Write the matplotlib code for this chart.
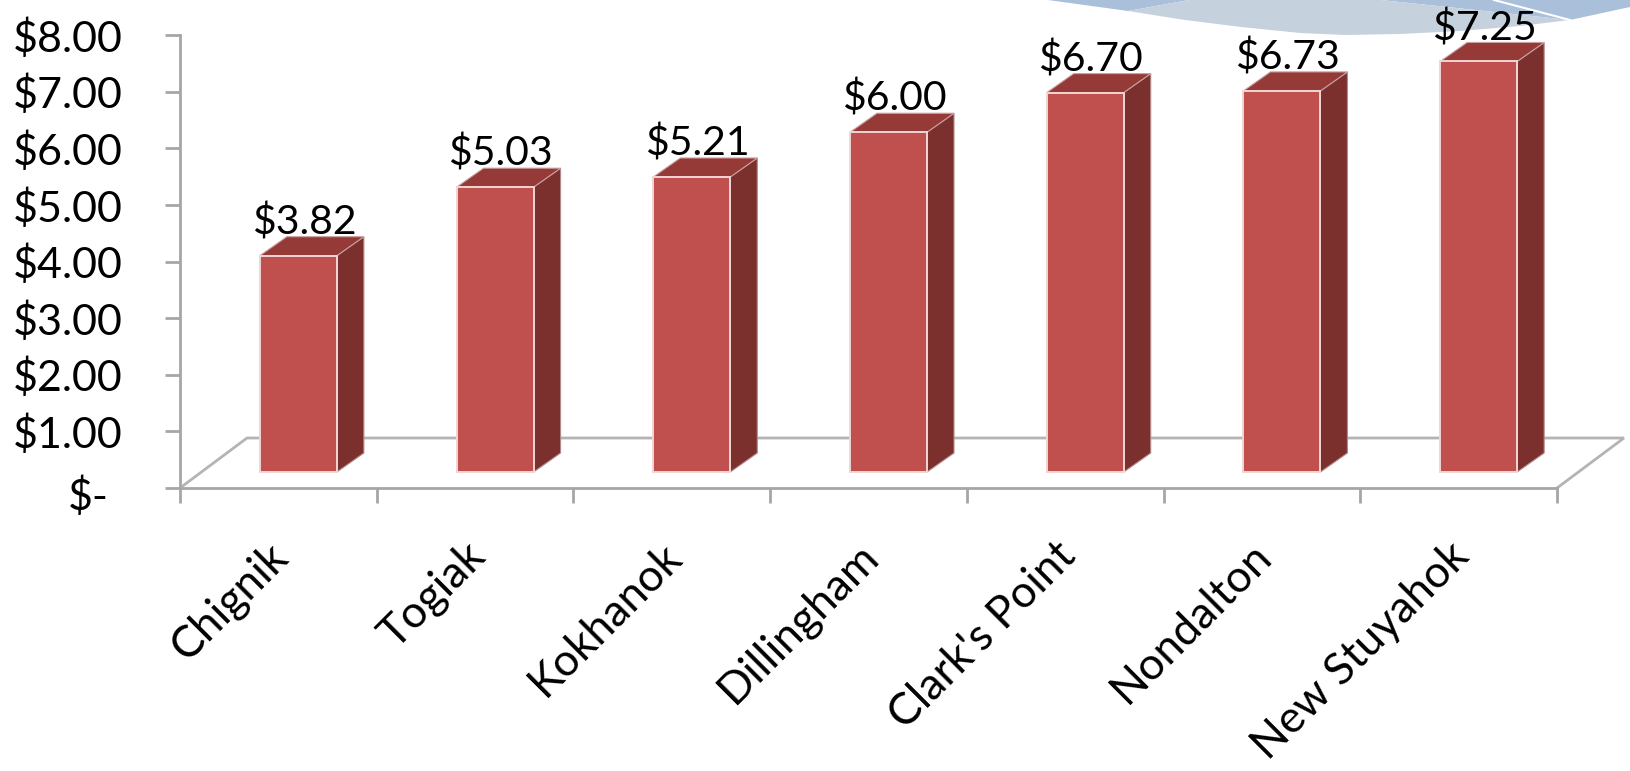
import matplotlib
matplotlib.use('Agg')
import matplotlib.pyplot as plt
import numpy as np
from matplotlib.patches import Polygon
from matplotlib.transforms import ScaledTranslation

categories = ['Chignik', 'Togiak', 'Kokhanok', 'Dillingham', "Clark's Point", 'Nondalton', 'New Stuyahok']
values = [3.82, 5.03, 5.21, 6.00, 6.70, 6.73, 7.25]
value_labels = ['$3.82', '$5.03', '$5.21', '$6.00', '$6.70', '$6.73', '$7.25']
y_ticks = [0, 1, 2, 3, 4, 5, 6, 7, 8]
y_tick_labels = ['$-', '$1.00', '$2.00', '$3.00', '$4.00', '$5.00', '$6.00', '$7.00', '$8.00']

W, H = 1630, 771
FONT = 'Lato'
plt.rcParams['font.family'] = [FONT, 'DejaVu Sans']

fig = plt.figure(figsize=(W / 100, H / 100), dpi=100, facecolor='white')

# decorative swoosh of the slide background (pixel coordinates)
bg = fig.add_axes([0, 0, 1, 1], zorder=0)
bg.set_xlim(0, W); bg.set_ylim(H, 0); bg.axis('off')
bg.add_patch(Polygon([(1048, 0), (1128, 11), (1189, 0)], closed=True, fc='#A9BFDA', ec='none'))
bg.add_patch(Polygon([(1381, 0), (1570, 20), (1630, 7), (1630, 0)], closed=True, fc='#A9BFDA', ec='none'))
bg.add_patch(Polygon([(1128, 11), (1185, 20), (1241, 27), (1300, 33), (1345, 35), (1400, 34), (1460, 31),
                      (1520, 26), (1570, 20), (1381, 0), (1189, 0)], closed=True, fc='#C5D2DE', ec='none'))
bg.plot([1494, 1570], [0, 20], color='white', lw=1.5)

# plotting axes
L, R, T, B = 180, 1557, 35, 488
ax = fig.add_axes([L / W, 1 - B / H, (R - L) / W, (B - T) / H], zorder=1)
ax.patch.set_alpha(0)
ax.set_xlim(0, len(categories))
ax.set_ylim(0, 8)
for s in ['top', 'right']:
    ax.spines[s].set_visible(False)
for s in ['left', 'bottom']:
    ax.spines[s].set_color('#A6A6A6')
    ax.spines[s].set_linewidth(2)

px = len(categories) / (R - L)   # data units per pixel, x
py = 8 / (B - T)                 # data units per pixel, y

# 3D floor
fdx, fdy = 67 * px, 50 * py
n = len(categories)
ax.plot([0, fdx, n + fdx, n], [0, fdy, fdy, 0], color='#B4B4B4', lw=2, clip_on=False, zorder=1,
        solid_joinstyle='miter')

# bars
xpos = np.arange(n) + 0.5 + 20 * px
bw = 77 * px
base = 16 * py
ddx, ddy = 27 * px, 19 * py
for x, v in zip(xpos, values):
    l, r, b, t = x - bw / 2, x + bw / 2, base, base + v
    ax.add_patch(Polygon([(r, b), (r + ddx, b + ddy), (r + ddx, t + ddy), (r, t)], closed=True,
                         fc='#7B302E', ec='#B08A89', lw=0.8, clip_on=False, zorder=3))
    ax.add_patch(Polygon([(l, t), (r, t), (r + ddx, t + ddy), (l + ddx, t + ddy)], closed=True,
                         fc='#953A37', ec='#C9A0A0', lw=0.8, clip_on=False, zorder=3))
ax.bar(xpos, values, width=bw, bottom=base, color='#C0504D', edgecolor='#EFD6D5', linewidth=1.4,
       zorder=4, clip_on=False)

for x, v, s in zip(xpos, values, value_labels):
    ax.annotate(s, (x, base + v), xytext=(4, 24), textcoords='offset points', ha='center', va='center',
                fontsize=29.5, color='black', zorder=6, annotation_clip=False)

ax.set_yticks(y_ticks)
ax.set_yticklabels(y_tick_labels, fontsize=31, color='black')
ax.tick_params(axis='y', length=11, width=2, color='#A6A6A6', pad=30)
zero = ax.get_yticklabels()[0]
zero.set_transform(zero.get_transform() + ScaledTranslation(-14 / 100, -5 / 100, fig.dpi_scale_trans))
ax.set_xticks(np.arange(n + 1))
ax.set_xticklabels([])
ax.tick_params(axis='x', length=11, width=2, color='#A6A6A6')

for i, c in enumerate(categories):
    ax.annotate(c, (i + 0.5, 0), xytext=(-8, -34), textcoords='offset points', rotation=45,
                rotation_mode='anchor', ha='right', va='top', fontsize=32, color='black',
                annotation_clip=False)

fig.savefig('out.png', dpi=100, facecolor='white')
